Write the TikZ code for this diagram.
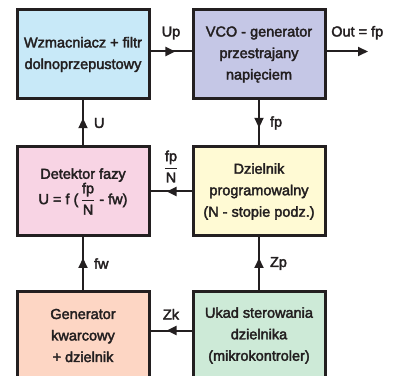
\documentclass[tikz,border=0pt]{standalone}
\usepackage{amsmath}
\usepackage{fontspec}
\setmainfont{Liberation Sans}[FakeBold=2.5]
\usetikzlibrary{positioning}
\usetikzlibrary{arrows.meta}
\usetikzlibrary{decorations.markings}

\definecolor{ciemny}{RGB}{35,31,32}
\definecolor{kfiltr}{RGB}{200,233,248}
\definecolor{kvco}{RGB}{197,199,230}
\definecolor{kdetektor}{RGB}{248,212,228}
\definecolor{kdzielnik}{RGB}{255,250,212}
\definecolor{kgenerator}{RGB}{253,214,196}
\definecolor{kuklad}{RGB}{205,234,215}

\newcommand{\ulamek}[2]{\genfrac{}{}{1.2pt}{0}{\text{#1}}{\text{#2}}}

\begin{document}
\begin{tikzpicture}[x=1pt, y=1pt,
  blok/.style={draw=ciemny, line width=3pt, minimum width=132pt, minimum height=89pt,
    align=center, text=ciemny, inner sep=0pt, outer sep=0pt,
    font=\fontsize{14.5}{21.5}\selectfont},
  etykieta/.style={text=ciemny, inner sep=2pt, font=\fontsize{14.5}{16}\selectfont},
  strzalka/.style={draw=ciemny, line width=2pt, postaction={decorate},
    decoration={markings, mark=at position 0.6 with {\arrow{Triangle[length=10pt,width=9pt]}}}}]
  \useasboundingbox (0,0) rectangle (396,375);

  \node[blok, fill=kfiltr] (filtr) at (83,320.5) {Wzmacniacz + filtr\\dolnoprzepustowy};
  \node[blok, fill=kvco, right=44pt of filtr] (vco) {VCO - generator\\przestrajany\\napięciem};
  \node[blok, fill=kdetektor, below=48pt of filtr] (detektor) {Detektor fazy\\U = f (\,$\ulamek{fp}{N}$ - fw)};
  \node[blok, fill=kdzielnik, below=48pt of vco] (dzielnik) {Dzielnik\\programowalny\\(N - stopie podz.)};
  \node[blok, fill=kgenerator, below=55pt of detektor] (generator) {Generator\\kwarcowy\\+ dzielnik};
  \node[blok, fill=kuklad, below=55pt of dzielnik] (uklad) {Ukad sterowania\\dzielnika\\(mikrokontroler)};
  \coordinate[right=43pt of vco.east, yshift=3pt] (out);

  % Strzałki między blokami
  \draw[strzalka] ([yshift=3pt]filtr.east) -- node[etykieta, above=9pt] {Up} ([yshift=3pt]vco.west);
  \draw[ciemny, line width=2pt, -{Triangle[length=10pt,width=9pt]}] ([yshift=3pt]vco.east) -- node[etykieta, above=9pt, pos=0.75] {Out = fp} (out);
  \draw[strzalka] (vco) -- node[etykieta, right=8pt] {fp} (dzielnik);
  \draw[strzalka] (dzielnik) -- node[etykieta, above=6pt] {$\ulamek{fp}{N}$} (detektor);
  \draw[strzalka] (detektor) -- node[etykieta, right=8pt] {U} (filtr);
  \draw[strzalka] (generator) -- node[etykieta, right=8pt] {fw} (detektor);
  \draw[strzalka] (uklad) -- node[etykieta, right=8pt] {Zp} (dzielnik);
  \draw[strzalka] ([yshift=5pt]uklad.west) -- node[etykieta, above=8pt] {Zk} ([yshift=5pt]generator.east);
\end{tikzpicture}
\end{document}
